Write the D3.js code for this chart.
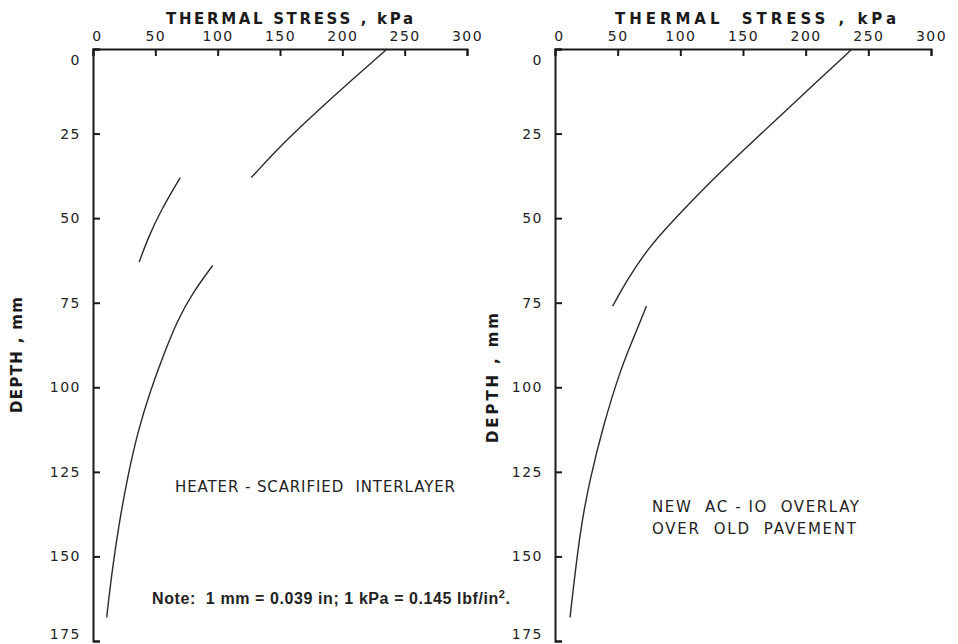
<!DOCTYPE html>
<html>
<head>
<meta charset="utf-8">
<script src="https://cdn.jsdelivr.net/npm/d3@7"></script>
<style>
  body { margin: 0; background: #fff; }
  svg { display: block; }
  svg text { white-space: pre; }
  .axis path, .axis line { stroke: #1a1a1a; stroke-width: 2; }
  .axis text { font-family: "DejaVu Sans", sans-serif; font-size: 14px; letter-spacing: 1.5px; fill: #222; }
</style>
</head>
<body>
<svg id="chart" width="958" height="644"></svg>
<script>
// stress (kPa) vs depth (mm)
const stressTicks = [0, 50, 100, 150, 200, 250, 300];
const depthTicks = [0, 25, 50, 75, 100, 125, 150, 175];

const heaterTop = [[236, 0], [208, 9], [178, 19], [152, 28], [127, 38]];
const heaterMid = [[70, 38], [54, 48], [44, 56], [37, 63]];
const heaterLow = [[96, 64], [80, 72], [68, 80], [57, 90], [46, 101], [36, 113], [28, 126], [21, 140], [15, 155], [11, 168]];

const overlayTop = [[237, 0], [208, 10], [179, 20], [150, 30], [122, 40], [96, 50], [74, 59], [58, 68], [46, 76]];
const overlayLow = [[73, 76], [62, 86], [52, 95], [38, 112], [28, 127], [20, 142], [12, 168]];

const svg = d3.select("#chart");

const panels = [
  {
    x0: 93, x1: 467,
    series: [heaterTop, heaterMid, heaterLow],
    title: "THERMAL STRESS , kPa", titleX: 166, titleLen: 247,
    yLabelX: 22, yLabelY: 355, yLabelLen: 116,
    notes: [{ text: "HEATER - SCARIFIED  INTERLAYER", x: 175, y: 492, len: 280 }]
  },
  {
    x0: 555, x1: 931,
    series: [overlayTop, overlayLow],
    title: "THERMAL  STRESS , kPa", titleX: 615, titleLen: 281,
    yLabelX: 498, yLabelY: 378, yLabelLen: 130,
    notes: [
      { text: "NEW  AC - IO  OVERLAY", x: 652, y: 512, len: 207 },
      { text: "OVER  OLD  PAVEMENT", x: 652, y: 534, len: 204 }
    ]
  }
];

panels.forEach(p => {
  let xScale = d3.scaleLinear()
      .domain([0, 300])
      .range([p.x0, p.x1]);

  let yScale = d3.scaleLinear()
      .domain([0, 175])
      .range([49, 641]);

  let xAxis = d3.axisTop(xScale)
      .tickValues(stressTicks)
      .tickSize(-7)
      .tickPadding(8);

  let yAxis = d3.axisLeft(yScale)
      .tickValues(depthTicks)
      .tickSize(-7)
      .tickPadding(12);

  const gx = svg.append("g")
      .attr("class", "axis")
      .attr("transform", "translate(0, " + yScale(0) + ")")
      .call(xAxis);
  gx.selectAll(".tick").filter(d => d === 0).select("text").attr("dx", 4);

  const gy = svg.append("g")
      .attr("class", "axis")
      .attr("transform", "translate(" + xScale(0) + ", 0)")
      .call(yAxis);
  gy.selectAll(".tick").filter(d => d === 0).select("text").attr("dy", "1.1em");
  gy.selectAll(".tick").filter(d => d === 175).select("text").attr("dy", "-0.15em");

  const line = d3.line()
      .x(d => xScale(d[0]))
      .y(d => yScale(d[1]))
      .curve(d3.curveBasis);

  svg.selectAll(null)
      .data(p.series)
      .enter()
      .append("path")
      .attr("d", line)
      .attr("fill", "none")
      .attr("stroke", "#2a2a2a")
      .attr("stroke-width", 1.4);

  svg.append("text")
      .attr("x", p.titleX)
      .attr("y", 24)
      .attr("textLength", p.titleLen)
      .attr("lengthAdjust", "spacing")
      .style("font-family", "DejaVu Sans, sans-serif")
      .style("font-weight", "bold")
      .style("font-size", "15px")
      .style("fill", "#1a1a1a")
      .text(p.title);

  svg.append("text")
      .attr("transform", `translate(${p.yLabelX}, ${p.yLabelY}) rotate(-90)`)
      .attr("text-anchor", "middle")
      .attr("textLength", p.yLabelLen)
      .attr("lengthAdjust", "spacing")
      .style("font-family", "DejaVu Sans, sans-serif")
      .style("font-weight", "bold")
      .style("font-size", "15px")
      .style("fill", "#1a1a1a")
      .text("DEPTH , mm");

  p.notes.forEach(n => {
    svg.append("text")
        .attr("x", n.x)
        .attr("y", n.y)
        .attr("textLength", n.len)
        .attr("lengthAdjust", "spacing")
        .style("font-family", "DejaVu Sans, sans-serif")
        .style("font-size", "15px")
        .style("fill", "#222")
        .text(n.text);
  });
});

const note = svg.append("text")
    .attr("x", 152)
    .attr("y", 604)
    .attr("textLength", 358)
    .attr("lengthAdjust", "spacing")
    .style("font-family", "Liberation Sans, Arial, sans-serif")
    .style("font-weight", "bold")
    .style("font-size", "16px")
    .style("fill", "#222");
note.append("tspan").text("Note:  1 mm = 0.039 in; 1 kPa = 0.145 lbf/in");
note.append("tspan").attr("dy", -6).style("font-size", "11px").text("2");
note.append("tspan").attr("dy", 6).text(".");
</script>
</body>
</html>
